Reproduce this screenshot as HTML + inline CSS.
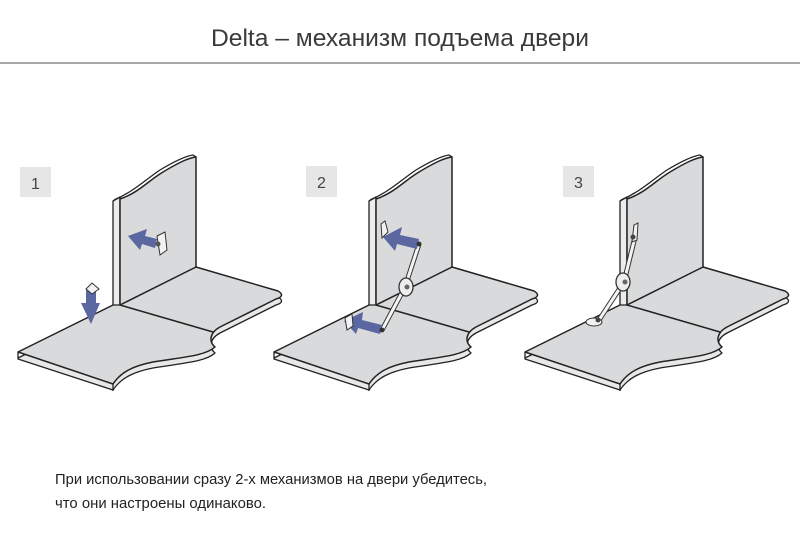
<!DOCTYPE html>
<html><head><meta charset="utf-8"><style>
html,body{margin:0;padding:0;background:#fff;}
svg{display:block}
</style></head><body>
<svg width="800" height="555" viewBox="0 0 800 555" xmlns="http://www.w3.org/2000/svg">
<defs>
<g id="scene">
  <path d="M525,358 L620,311 L703,273 L785,297 C790,300 790,303 783,305 L727,333 C716,339 716,348 722,353 C712,362 690,363 660,368 C640,372 628,378 620,390 L525,359 Z" fill="#e8e8e8" stroke="#222" stroke-width="1.3" stroke-linejoin="round"/>
  <path d="M525,352 L525,358 M620,384 L620,391" stroke="#222" stroke-width="1.3"/>
  <path d="M525,352 L620,305 L703,267 L785,291 C790,294 790,297 783,299 L727,327 C716,333 716,342 722,347 C712,356 690,357 660,362 C640,366 628,372 620,384 Z" fill="#d9dadb" stroke="#222" stroke-width="1.5" stroke-linejoin="round"/>
  <path d="M627,305 L720,332" stroke="#222" stroke-width="1.5"/>
  <path d="M620,201 L627,197 L627,305 L620,305 Z" fill="#ececec" stroke="#222" stroke-width="1.3" stroke-linejoin="round"/>
  <path d="M627,199 C645,193 655,181 670,172 C685,163 695,158 703,157 L703,267 L627,305 Z" fill="#d9dadb" stroke="#222" stroke-width="1.5" stroke-linejoin="round"/>
  <path d="M621,200 C640,192 652,180 667,170 C682,161 693,156 700,155 L703,157" fill="none" stroke="#222" stroke-width="1.3"/>
</g>
</defs>

<text x="400" y="46" text-anchor="middle" font-family="Liberation Sans, sans-serif" font-size="24.5" fill="#3a3a3a" textLength="378" lengthAdjust="spacingAndGlyphs">Delta – механизм подъема двери</text>
<rect x="0" y="62" width="800" height="2" fill="#a8a8a8"/>

<rect x="20" y="167" width="31" height="30" fill="#e6e6e6"/>
<text x="35.5" y="189" text-anchor="middle" font-family="Liberation Sans, sans-serif" font-size="16" fill="#444">1</text>
<rect x="306" y="166" width="31" height="31" fill="#e6e6e6"/>
<text x="321.5" y="188" text-anchor="middle" font-family="Liberation Sans, sans-serif" font-size="16" fill="#444">2</text>
<rect x="563" y="166" width="31" height="31" fill="#e6e6e6"/>
<text x="578.5" y="188" text-anchor="middle" font-family="Liberation Sans, sans-serif" font-size="16" fill="#444">3</text>

<use href="#scene" transform="translate(-507,0)"/>
<use href="#scene" transform="translate(-251,0)"/>
<use href="#scene"/>

<!-- panel 1 -->
<path d="M157,239 L145,236 L147,229 L128,236 L140,250 L142,244 L155,248 Z" fill="#5a67a0"/>
<path d="M157,236 L165,232 L167,250 L160,255 Z" fill="#f2f2f2" stroke="#333" stroke-width="1"/>
<circle cx="158" cy="244" r="2.5" fill="#555"/>
<path d="M86,290 L96,290 L96,303 L100,303 L91,324 L81,303 L86,303 Z" fill="#5a67a0"/>
<path d="M86,289 L92,283 L99,289 L92,294 Z" fill="#f2f2f2" stroke="#333" stroke-width="1"/>

<!-- panel 2 -->
<line x1="419" y1="244" x2="405" y2="287" stroke="#333" stroke-width="5"/>
<line x1="419" y1="244" x2="405" y2="287" stroke="#f4f4f4" stroke-width="3"/>
<line x1="405" y1="287" x2="382" y2="330" stroke="#333" stroke-width="5"/>
<line x1="405" y1="287" x2="382" y2="330" stroke="#f4f4f4" stroke-width="3"/>
<path d="M419,239 L400,235 L402,227 L383,237 L395,251 L397,244 L417,249 Z" fill="#5a67a0"/>
<path d="M382,325 L362,320 L363,312 L344,321 L356,334 L358,328 L380,334 Z" fill="#5a67a0"/>
<circle cx="419" cy="244" r="2.5" fill="#333"/>
<circle cx="382" cy="330" r="2.5" fill="#333"/>
<path d="M381,224 L385,221 L388,232 L382,238 Z" fill="#f2f2f2" stroke="#333" stroke-width="1"/>
<path d="M345,318 L352,314 L353,326 L347,330 Z" fill="#f2f2f2" stroke="#333" stroke-width="1"/>
<ellipse cx="406" cy="287" rx="7" ry="9" fill="#eee" stroke="#333" stroke-width="1.3"/>
<circle cx="407" cy="287" r="2.5" fill="#666"/>

<!-- panel 3 -->
<line x1="635" y1="237" x2="624" y2="282" stroke="#333" stroke-width="5"/>
<line x1="635" y1="237" x2="624" y2="282" stroke="#f4f4f4" stroke-width="3"/>
<line x1="624" y1="282" x2="599" y2="320" stroke="#333" stroke-width="5"/>
<line x1="624" y1="282" x2="599" y2="320" stroke="#f4f4f4" stroke-width="3"/>
<path d="M634,225 L638,223 L637,240 L632,242 Z" fill="#f2f2f2" stroke="#333" stroke-width="1"/>
<circle cx="633" cy="237" r="2.5" fill="#444"/>
<ellipse cx="594" cy="322" rx="8" ry="4" fill="#f2f2f2" stroke="#333" stroke-width="1"/>
<circle cx="598" cy="320" r="2.5" fill="#444"/>
<ellipse cx="623" cy="282" rx="7" ry="9" fill="#eee" stroke="#333" stroke-width="1.3"/>
<circle cx="625" cy="282" r="2.5" fill="#666"/>

<text x="55" y="484" font-family="Liberation Sans, sans-serif" font-size="15" fill="#222" textLength="432" lengthAdjust="spacingAndGlyphs">При использовании сразу 2-х механизмов на двери убедитесь,</text>
<text x="55" y="508" font-family="Liberation Sans, sans-serif" font-size="15" fill="#222" textLength="211" lengthAdjust="spacingAndGlyphs">что они настроены одинаково.</text>
</svg>
</body></html>
